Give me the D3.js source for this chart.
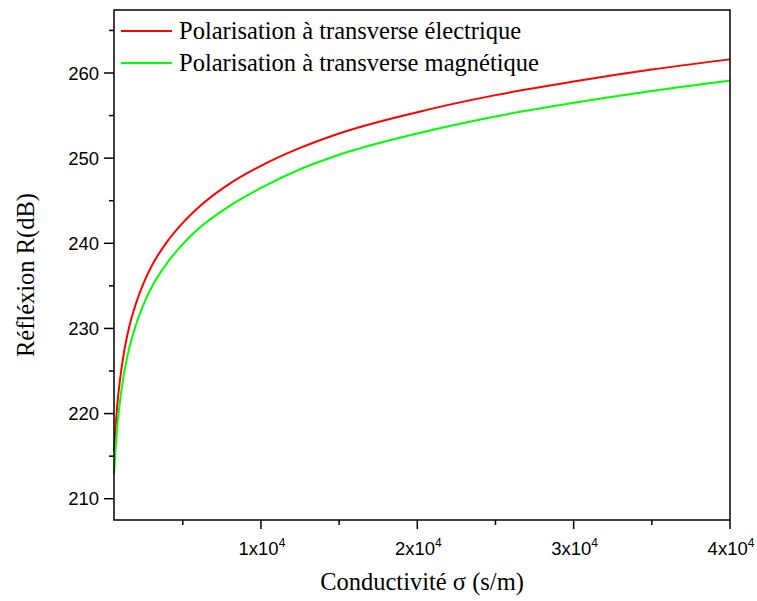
<!DOCTYPE html>
<html>
<head>
<meta charset="utf-8">
<script src="https://cdn.jsdelivr.net/npm/d3@7"></script>
<style>
  body { margin: 0; background: #fff; }
  svg { display: block; }
</style>
</head>
<body>
<svg width="757" height="601"></svg>
<script>
// conductivity (s/m) and reflection (dB)
var sigma  = [600, 700, 800, 1000, 1250, 1500, 2000, 2500, 3000, 4000, 5000, 6000, 8000, 10000, 12500, 15000, 20000, 25000, 30000, 35000, 40000];
var reflTE = [215.5, 218.4, 220.8, 224.2, 227.3, 229.6, 232.9, 235.35, 237.3, 240.2, 242.4, 244.2, 247.0, 249.1, 251.2, 252.9, 255.4, 257.4, 259.0, 260.4, 261.6];
var reflTM = [212.9, 215.9, 218.3, 221.7, 224.8, 227.1, 230.4, 232.85, 234.8, 237.7, 239.9, 241.7, 244.4, 246.5, 248.7, 250.4, 252.9, 254.9, 256.5, 257.9, 259.1];

var seriesNames = ["Polarisation à transverse électrique", "Polarisation à transverse magnétique"];
var seriesColors = ["#ff0000", "#00ff00"];

var xTicks = [10000, 20000, 30000, 40000];
var xMinor = [5000, 15000, 25000, 35000];
var yTicks = [210, 220, 230, 240, 250, 260];
var yMinor = [215, 225, 235, 245, 255, 265];

var svg = d3.select("svg");
var margins = { top: 10, left: 114, right: 27, bottom: 81 };
var width = +svg.attr("width"), height = +svg.attr("height");
var x0 = margins.left, x1 = width - margins.right;
var y0 = height - margins.bottom, y1 = margins.top;

var xScale = d3.scaleLinear().domain([600, 40000]).range([x0, x1]);
var yScale = d3.scaleLinear().domain([207.5, 267.4]).range([y0, y1]);

var sans = "'Liberation Sans', Arial, sans-serif";
var serif = "'Liberation Serif', 'Times New Roman', serif";

// curves
var series = [
  sigma.map(function (s, i) { return [s, reflTE[i]]; }),
  sigma.map(function (s, i) { return [s, reflTM[i]]; })
];
var line = d3.line()
  .x(function (d) { return xScale(d[0]); })
  .y(function (d) { return yScale(d[1]); })
  .curve(d3.curveMonotoneX);

svg.selectAll("path.curve").data(series).enter().append("path")
  .attr("class", "curve")
  .attr("d", line)
  .attr("fill", "none")
  .attr("stroke", function (d, i) { return seriesColors[i]; })
  .attr("stroke-width", 2);

// frame
svg.append("rect")
  .attr("x", x0).attr("y", y1)
  .attr("width", x1 - x0).attr("height", y0 - y1)
  .attr("fill", "none").attr("stroke", "#000").attr("stroke-width", 1.5);

// x axis
var xAxis = svg.append("g").attr("transform", "translate(0," + y0 + ")");
xAxis.selectAll("line.major").data(xTicks).enter().append("line")
  .attr("x1", xScale).attr("x2", xScale)
  .attr("y1", 0).attr("y2", 9)
  .attr("stroke", "#000").attr("stroke-width", 1.5);
xAxis.selectAll("line.minor").data(xMinor).enter().append("line")
  .attr("x1", xScale).attr("x2", xScale)
  .attr("y1", 0).attr("y2", 5)
  .attr("stroke", "#000").attr("stroke-width", 1.5);
var xLab = xAxis.selectAll("text").data(xTicks).enter().append("text")
  .attr("x", function (d) { return xScale(d) + 1; })
  .attr("y", 35)
  .attr("text-anchor", "middle")
  .style("font-family", sans).style("font-size", "18.5px");
xLab.append("tspan").text(function (d) { return (d / 10000) + "x10"; });
xLab.append("tspan").attr("dy", -8).style("font-size", "12px").text("4");

// y axis
var yAxis = svg.append("g").attr("transform", "translate(" + x0 + ",0)");
yAxis.selectAll("line.major").data(yTicks).enter().append("line")
  .attr("y1", yScale).attr("y2", yScale)
  .attr("x1", 0).attr("x2", -10)
  .attr("stroke", "#000").attr("stroke-width", 1.5);
yAxis.selectAll("line.minor").data(yMinor).enter().append("line")
  .attr("y1", yScale).attr("y2", yScale)
  .attr("x1", 0).attr("x2", -5)
  .attr("stroke", "#000").attr("stroke-width", 1.5);
yAxis.selectAll("text").data(yTicks).enter().append("text")
  .attr("x", -15)
  .attr("y", yScale)
  .attr("dy", "0.36em")
  .attr("text-anchor", "end")
  .style("font-family", sans).style("font-size", "18.5px")
  .text(function (d) { return d; });

// axis titles
svg.append("text")
  .attr("x", (x0 + x1) / 2).attr("y", 590)
  .attr("text-anchor", "middle")
  .style("font-family", serif).style("font-size", "24.5px")
  .text("Conductivité σ (s/m)");
svg.append("text")
  .attr("transform", "translate(34," + ((y0 + y1) / 2 + 10) + ") rotate(-90)")
  .attr("text-anchor", "middle")
  .style("font-family", serif).style("font-size", "24.5px")
  .text("Réfléxion R(dB)");

// legend
var legend = svg.selectAll("g.legend").data(seriesNames).enter().append("g")
  .attr("class", "legend")
  .attr("transform", function (d, i) { return "translate(121," + (31 + i * 32) + ")"; });
legend.append("line")
  .attr("x1", 0).attr("x2", 51)
  .attr("stroke", function (d, i) { return seriesColors[i]; })
  .attr("stroke-width", 2);
legend.append("text")
  .attr("x", 58).attr("y", 8)
  .style("font-family", serif).style("font-size", "24.5px")
  .text(function (d) { return d; });
</script>
</body>
</html>
